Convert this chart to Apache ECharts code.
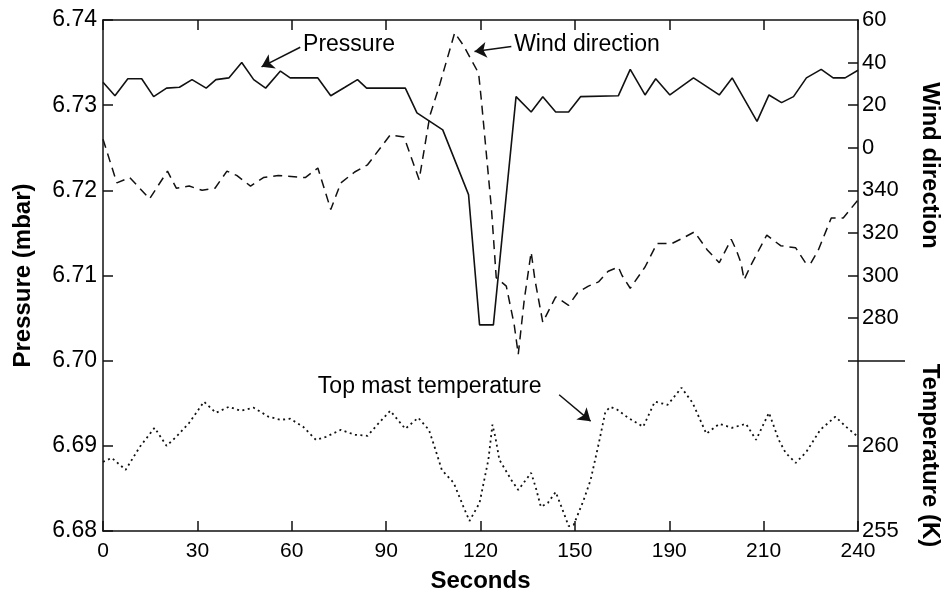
<!DOCTYPE html>
<html>
<head>
<meta charset="utf-8">
<script src="https://cdn.jsdelivr.net/npm/echarts@6/dist/echarts.min.js"></script>
<style>
  html, body { margin: 0; padding: 0; background: #fff; }
  #chart { width: 950px; height: 599px; }
</style>
</head>
<body>
<div id="chart"></div>
<script>
  // x ticks in seconds; the printed figure labels the 180 s tick "190"
  const secondTicks = [0, 30, 60, 90, 120, 150, 180, 210, 240]
  const secondTickLabels = ['0', '30', '60', '90', '120', '150', '190', '210', '240']
  // right axis tick labels (compass degrees / kelvin)
  const windTickLabels = [60, 40, 20, 0, 340, 320, 300, 280]
  const windTicks = [40, 20, 0, 340, 320, 300, 280, 260]
  const windSplit = 260   // bottom of wind scale, divider to temperature
  const tempTickLabels = [255, 260]
  const tempTicks = [260]

  // [seconds, mbar]
  const pressure = [
    [0, 6.7327], [3.8, 6.7311], [7.9, 6.7331], [12.3, 6.7331], [16.1, 6.7310],
    [20.2, 6.7320], [24.3, 6.7321], [28.3, 6.7330], [32.8, 6.7320], [35.9, 6.7330],
    [40.0, 6.7332], [44.1, 6.7350], [47.9, 6.7330], [51.7, 6.7320], [56.4, 6.7340],
    [59.5, 6.7332], [68.3, 6.7332], [72.4, 6.7311], [76.9, 6.7321], [80.9, 6.7330],
    [83.8, 6.7320], [96.1, 6.7320], [99.8, 6.7291], [108.0, 6.7271], [116.2, 6.7195],
    [119.7, 6.7042], [124.1, 6.7042], [131.3, 6.7310], [136.1, 6.7292], [139.8, 6.7310],
    [143.9, 6.7292], [148.0, 6.7292], [151.8, 6.7310], [163.8, 6.7311], [167.6, 6.7342],
    [172.3, 6.7312], [175.7, 6.7331], [180.2, 6.7312], [187.7, 6.7332], [195.9, 6.7312],
    [200.0, 6.7332], [207.9, 6.7281], [211.7, 6.7312], [215.7, 6.7303], [219.5, 6.7310],
    [223.6, 6.7332], [228.3, 6.7342], [232.1, 6.7332], [235.9, 6.7332], [240, 6.7341]
  ]

  // [seconds, degrees]
  const windDir = [
    [0, 4], [4.4, 343.5], [8.5, 346], [14.8, 336], [20.5, 349], [23.3, 341],
    [27.4, 342], [31.5, 340], [35.6, 341], [39.4, 349], [42.5, 347], [46.9, 342],
    [51.0, 346], [55.7, 347], [64.3, 346], [68.3, 350.5], [72.4, 331], [75.6, 343.5],
    [80.0, 348.6], [84.1, 352], [91.3, 6], [95.7, 5], [100.5, 345], [103.9, 15],
    [107.1, 30], [111.8, 54], [114.6, 48], [119.4, 35], [120.3, 22], [123.5, 331],
    [125.0, 299], [128.2, 295], [130.7, 277], [132.0, 263], [133.9, 288.5], [136.1, 311],
    [137.3, 298], [139.8, 278], [143.9, 290], [148.0, 286], [150.9, 292], [154.3, 295],
    [157.5, 297], [160.6, 302], [163.8, 304], [165.0, 300], [167.6, 294], [172.3, 304],
    [176.1, 315], [180.8, 315], [184.9, 318], [188.0, 320.5], [192.1, 312], [195.9, 306],
    [199.7, 317], [201.3, 312], [202.8, 306], [203.8, 298], [206.0, 305], [211.0, 319],
    [215.4, 314], [220.2, 313], [223.3, 306], [224.9, 305.5], [227.4, 312], [231.5, 327],
    [235.3, 327], [240, 335.5]
  ]

  // [seconds, K]
  const topMastTemp = [
    [0, 259.06], [2.8, 259.29], [7.2, 258.59], [11.7, 259.94], [16.4, 261.06], [20.2, 260.0],
    [23.3, 260.53], [27.4, 261.35], [32.1, 262.59], [35.9, 261.94], [40.0, 262.29], [43.8, 262.06],
    [47.9, 262.24], [52.6, 261.71], [56.4, 261.53], [59.5, 261.59], [63.6, 261.12], [67.7, 260.35],
    [70.9, 260.53], [75.6, 260.94], [80.0, 260.65], [84.1, 260.59], [87.2, 261.24], [91.3, 262.06],
    [96.1, 261.0], [100.2, 261.65], [103.6, 260.94], [105.5, 259.88], [107.7, 258.59], [111.5, 257.82],
    [114.6, 256.41], [116.5, 255.59], [119.7, 256.65], [122.5, 259.18], [123.8, 261.24], [124.7, 260.53],
    [126.0, 259.18], [129.8, 258.0], [132.0, 257.41], [136.1, 258.41], [137.6, 257.53], [139.2, 256.41],
    [141.4, 256.65], [143.9, 257.29], [146.1, 256.24], [148.0, 255.29], [149.6, 255.35], [152.8, 256.82],
    [155.0, 258.0], [157.5, 260.06], [159.7, 262.0], [161.3, 262.29], [163.5, 262.12], [166.9, 261.65],
    [171.7, 261.12], [173.2, 261.71], [175.4, 262.59], [179.5, 262.41], [183.9, 263.41], [187.4, 262.53],
    [191.8, 260.71], [195.9, 261.29], [200.0, 261.06], [204.4, 261.29], [207.6, 260.35], [211.7, 261.94],
    [214.8, 260.35], [217.0, 259.59], [220.2, 259.0], [223.6, 259.65], [228.0, 260.94], [232.8, 261.71],
    [236.2, 261.12], [240, 260.53]
  ]

  // labels with arrows, in [seconds, mbar]
  const notes = [
    { text: 'Pressure', at: [63.6, 6.7371], from: [62.7, 6.7368], to: [50.4, 6.7345] },
    { text: 'Wind direction', at: [130.7, 6.7371], from: [129.8, 6.7369], to: [118.1, 6.7363] },
    { text: 'Top mast temperature', at: [68.3, 6.6970], from: [145.0, 6.6960], to: [155.0, 6.6929] }
  ]

  // wind is plotted unwrapped so that 340 sits below 0
  function unwrap(d) { return d > 180 ? d - 360 : d }

  const ink = '#111'
  const font = 'Liberation Sans, Arial, Helvetica, sans-serif'
  const line = { show: true, onZero: false, lineStyle: { color: ink, width: 1.5 } }
  const noLine = { show: false, onZero: false }
  const tickIn = { show: true, inside: true, length: 10, lineStyle: { color: ink, width: 1.5 } }
  const nameStyle = { fontFamily: font, fontSize: 24, fontWeight: 'bold', color: '#000' }

  var chart = echarts.init(document.getElementById('chart'))
  chart.setOption({
    animation: false,
    backgroundColor: '#fff',
    textStyle: { fontFamily: font },
    grid: { left: 103, right: 85, top: 20, bottom: 68 },
    xAxis: [
      {
        type: 'value', min: 0, max: 240, interval: 30, position: 'bottom',
        axisLine: line, axisTick: tickIn, splitLine: { show: false },
        axisLabel: {
          fontSize: 21, color: '#000', margin: 10, fontFamily: font,
          formatter: function (v) { return secondTickLabels[secondTicks.indexOf(v)] }
        },
        name: 'Seconds', nameLocation: 'middle', nameGap: 38, nameTextStyle: nameStyle
      },
      {
        type: 'value', min: 0, max: 240, interval: 30, position: 'top',
        axisLine: line, axisTick: tickIn, splitLine: { show: false }, axisLabel: { show: false }
      }
    ],
    yAxis: [
      {
        type: 'value', min: 6.68, max: 6.74, interval: 0.01, position: 'left',
        axisLine: line, axisTick: tickIn, splitLine: { show: false },
        axisLabel: {
          fontSize: 23, color: '#000', margin: 6, fontFamily: font,
          formatter: function (v) { return v.toFixed(2) }
        },
        name: 'Pressure (mbar)', nameLocation: 'middle', nameGap: 68, nameTextStyle: nameStyle
      },
      {
        type: 'value', min: -180, max: 60, interval: 20, position: 'right',
        axisLine: line, splitLine: { show: false },
        axisTick: Object.assign({}, tickIn, { customValues: windTicks.map(unwrap) }),
        axisLabel: {
          fontSize: 22, color: '#000', margin: 4, fontFamily: font,
          customValues: windTickLabels.map(unwrap),
          formatter: function (v) { return String(v < 0 ? v + 360 : v) }
        },
        name: 'Wind direction', nameLocation: 'middle', nameRotate: -90, nameGap: 60,
        nameTextStyle: Object.assign({ padding: [0, 220, 0, 0] }, nameStyle)
      },
      {
        type: 'value', min: 255, max: 285, interval: 5, position: 'right',
        axisLine: noLine, splitLine: { show: false },
        axisTick: Object.assign({}, tickIn, { customValues: tempTicks }),
        axisLabel: {
          fontSize: 22, color: '#000', margin: 4, fontFamily: font,
          customValues: tempTickLabels
        },
        name: 'Temperature (K)', nameLocation: 'middle', nameRotate: -90, nameGap: 60,
        nameTextStyle: Object.assign({ padding: [0, 0, 0, 360] }, nameStyle)
      },
      {
        // divider between the wind and temperature scales
        type: 'value', min: -180, max: 60, interval: 20, position: 'right',
        axisLine: noLine, splitLine: { show: false }, axisLabel: { show: false },
        axisTick: { show: true, inside: false, length: 47, customValues: [unwrap(windSplit)], lineStyle: { color: ink, width: 1.5 } }
      }
    ],
    series: [
      {
        name: 'Pressure', type: 'line', xAxisIndex: 0, yAxisIndex: 0,
        data: pressure, showSymbol: false, lineStyle: { color: ink, width: 1.6 },
        markLine: {
          silent: true, symbol: ['none', 'arrow'], symbolSize: 12,
          lineStyle: { color: ink, width: 1.5, type: 'solid' }, label: { show: false },
          data: notes.map(function (n) { return [{ coord: n.from }, { coord: n.to }] })
        },
        markPoint: {
          silent: true, symbol: 'circle', symbolSize: 0,
          label: { show: true, position: 'right', distance: 0, formatter: '{b}', fontSize: 23, color: '#000', fontFamily: font },
          data: notes.map(function (n) { return { name: n.text, coord: n.at } })
        }
      },
      {
        name: 'Wind direction', type: 'line', xAxisIndex: 0, yAxisIndex: 1,
        data: windDir.map(function (d) { return [d[0], unwrap(d[1])] }),
        showSymbol: false, lineStyle: { color: ink, width: 1.5, type: [9, 6] }
      },
      {
        name: 'Top mast temperature', type: 'line', xAxisIndex: 0, yAxisIndex: 2,
        data: topMastTemp, showSymbol: false, lineStyle: { color: ink, width: 1.8, type: [2, 3.5] }
      }
    ]
  })
</script>
</body>
</html>
